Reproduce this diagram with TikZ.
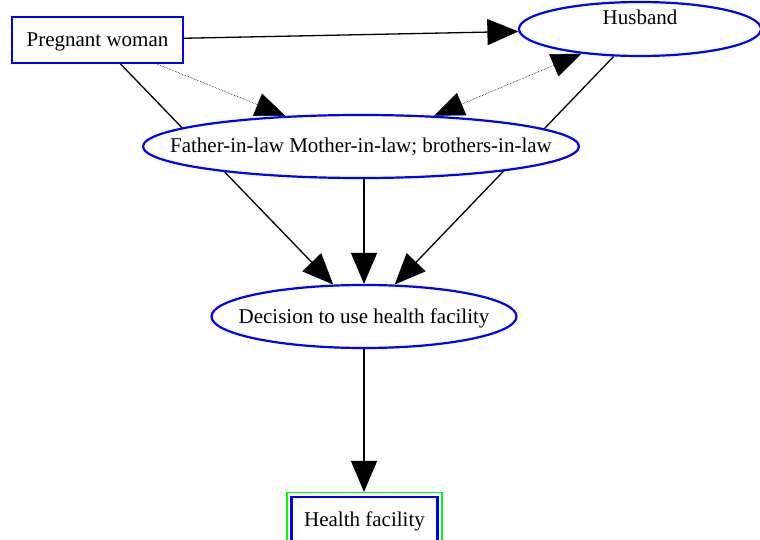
\documentclass[tikz,border=0pt]{standalone}
\usepackage{fontspec}
\setmainfont{Liberation Serif}
\usetikzlibrary{arrows.meta,shapes.geometric}
\pgfdeclarelayer{bg}
\pgfsetlayers{bg,main}
\begin{document}
\begin{tikzpicture}[x=1pt,y=-1pt,
  every node/.style={font=\fontsize{21}{25}\selectfont,text height=15pt,text depth=2pt},
  boxnode/.style={draw=blue,line width=2.2pt,fill=white,rectangle,inner sep=0pt},
  ellnode/.style={draw=blue,line width=2.2pt,fill=white,ellipse,inner xsep=-60pt,inner ysep=0pt},
  conn/.style={line width=1.3pt,-{Triangle[length=31pt,width=26pt]}},
  dotconn/.style={line width=0.6pt,densely dotted,-{Triangle[length=30pt,width=24pt]}},
  bothtip/.style={{Triangle[length=30pt,width=24pt]}-{Triangle[length=30pt,width=24pt]}},
]
\useasboundingbox (0,0) rectangle (760,540);
\node[boxnode,minimum width=171pt,minimum height=46pt] (pw) at (97.5,40) {Pregnant woman};
\node[ellnode,minimum width=242pt,minimum height=54pt,
      label={[yshift=11pt]center:Husband}] (hus) at (640,29) {};
\node[ellnode,minimum width=436pt,minimum height=63pt] (fil) at (361,146.5) {Father-in-law Mother-in-law; brothers-in-law};
\node[ellnode,minimum width=305pt,minimum height=63pt] (dec) at (364,316.5) {Decision to use health facility};
\node[boxnode,minimum width=146pt,minimum height=46pt] (hf) at (364.5,520) {Health facility};
\draw[green,line width=1.5pt] ([xshift=-3.5pt,yshift=3.5pt]hf.north west) rectangle ([xshift=3.5pt,yshift=-3.5pt]hf.south east);
\begin{pgfonlayer}{bg}
\draw[conn] (pw) -- (hus);
\draw[dotconn] (pw) -- (fil);
\draw[dotconn,bothtip] (fil) -- (hus);
\draw[conn] (pw) -- (dec);
\draw[conn] (hus) -- (dec);
\draw[conn] (fil.south -| dec.north) -- (dec.north);
\draw[conn] (dec.south) -- ([yshift=4pt]hf.north -| dec.south);
\end{pgfonlayer}
\end{tikzpicture}
\end{document}
